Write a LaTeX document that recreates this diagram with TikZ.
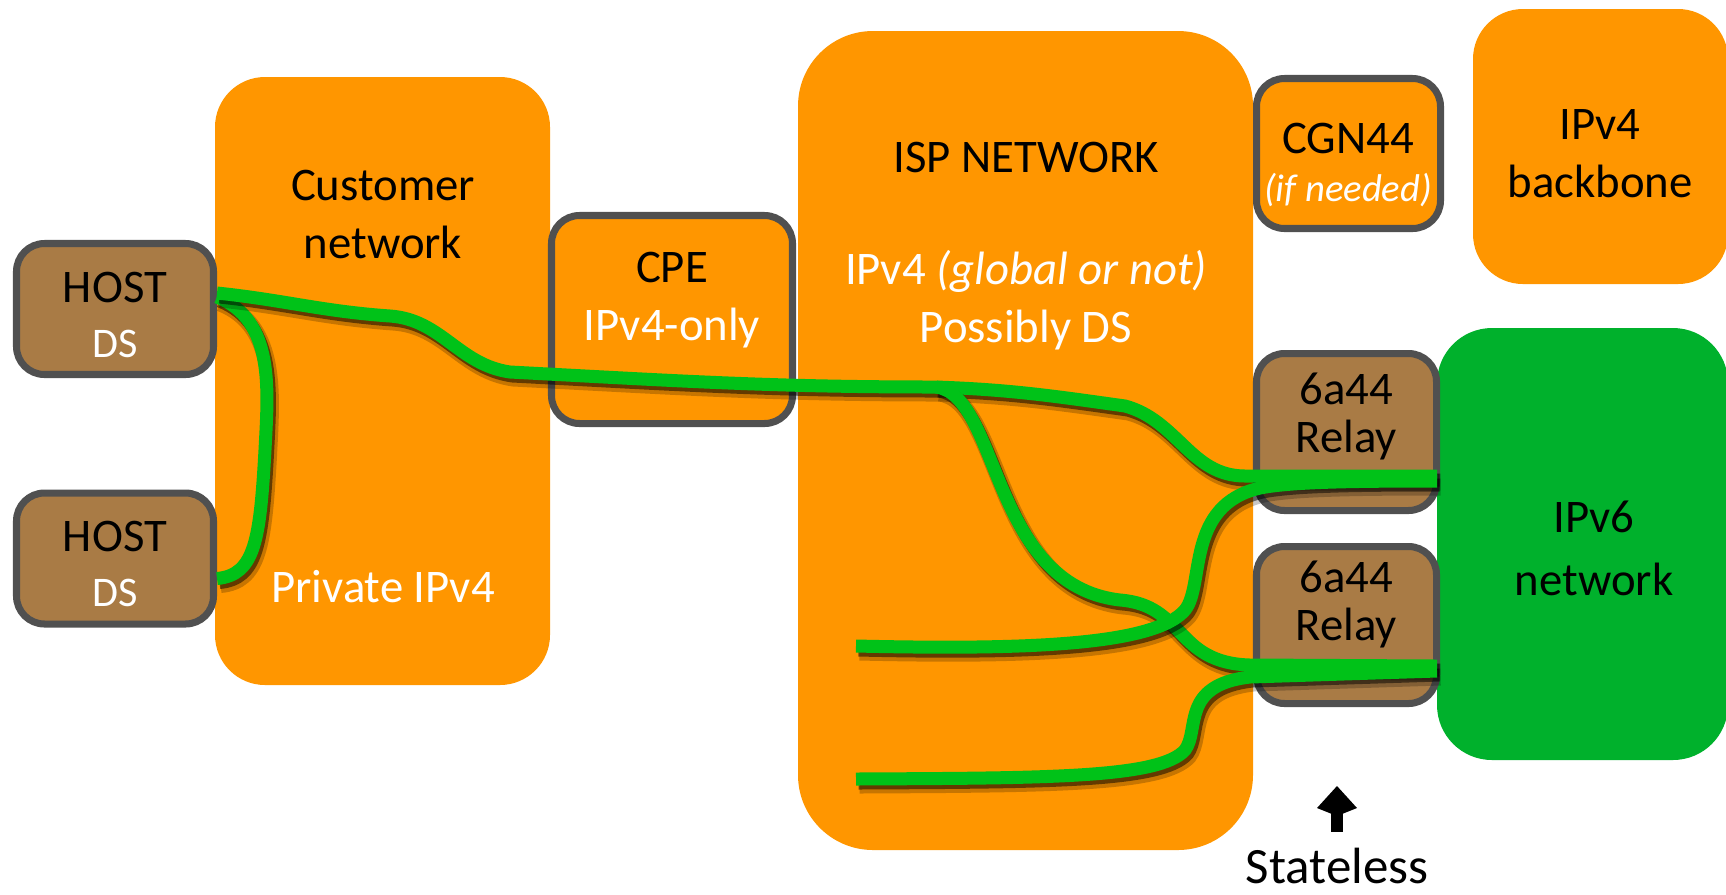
\documentclass[tikz,border=0pt]{standalone}
\usepackage{fontspec}
\setmainfont{Carlito}
\usetikzlibrary{arrows.meta,positioning,calc}
\definecolor{netorange}{HTML}{FF9600}
\definecolor{devbrown}{HTML}{A97B45}
\definecolor{frame}{HTML}{505050}
\definecolor{wire}{HTML}{00C218}
\definecolor{sixnet}{HTML}{00B12C}
\newcommand{\EdgeX}{14.37}
\newcommand{\RelayX}{13.465}

\begin{document}
\begin{tikzpicture}[
    font=\fontsize{13.3}{16.5}\selectfont,
    cloud/.style={fill=netorange, rounded corners=#1, inner sep=0pt},
    cloud/.default=0.5cm,
    device/.style={draw=frame, line width=2pt, rounded corners=0.28cm, inner sep=0pt, align=center},
    lbl/.style={align=center, inner sep=0pt},
    tunnel/.style={draw=wire, line width=0.13cm,
      preaction={draw=black, opacity=0.22, line width=0.17cm, transform canvas={shift={(0.035,-0.06)}}},
      preaction={draw=black, opacity=0.5, line width=0.13cm, transform canvas={shift={(0.025,-0.04)}}}},
    pointer/.style={-{Kite[length=0.30cm, width=0.40cm, inset=0.08cm]}, line width=0.12cm, draw=black},
  ]
\useasboundingbox (0,0) rectangle (17.26,-8.94);

% Networks
\node[cloud=0.75cm, minimum width=4.55cm, minimum height=8.19cm] (isp) at (10.255,-4.405) {};
\node[cloud, minimum width=3.35cm, minimum height=6.08cm] (cust) at (3.825,-3.81) {};
\node[cloud, minimum width=2.55cm, minimum height=2.75cm] (backbone) at (16.005,-1.465) {};
\node[cloud=0.55cm, fill=sixnet, minimum width=2.91cm, minimum height=4.32cm] (ipv6) at (15.825,-5.44) {};

% Devices
\node[device, fill=devbrown, minimum width=1.97cm, minimum height=1.31cm] (host1) at (1.15,-3.09) {};
\node[device, fill=devbrown, minimum width=1.97cm, minimum height=1.31cm] (host2) at (1.15,-5.585) {};
\node[device, fill=netorange, minimum width=2.41cm, minimum height=2.08cm] (cpe) at (6.72,-3.195) {};
\node[device, fill=netorange, minimum width=1.84cm, minimum height=1.50cm] (cgn) at (13.485,-1.535) {};
\node[device, fill=devbrown, minimum width=1.80cm, minimum height=1.57cm] (relay1) at (\RelayX,-4.32) {};
\node[device, fill=devbrown, minimum width=1.80cm, minimum height=1.57cm] (relay2) at (\RelayX,-6.25) {};

% Texts
\node[lbl] (custlbl) at (3.83,-2.14) {Customer\\network};
\node[lbl, text=white] (privlbl) at (3.83,-5.87) {Private IPv4};
\node[lbl] (host1lbl) at (1.15,-3.15) {HOST\\[-1pt]\textcolor{white}{\fontsize{12}{14}\selectfont DS}};
\node[lbl] (host2lbl) at (1.15,-5.64) {HOST\\[-1pt]\textcolor{white}{\fontsize{12}{14}\selectfont DS}};
\node[lbl] (cpelbl) at (6.72,-3.0) {CPE\\\textcolor{white}{IPv4-only}};
\node[lbl] (isplbl) at (10.26,-1.57) {ISP NETWORK};
\node[lbl, text=white] (ispsub) at (10.26,-3.0) {IPv4 \textit{(global or not)}\\Possibly DS};
\node[lbl] (cgnlbl) at (13.48,-1.65) {CGN44\\[-3pt]\textcolor{white}{\fontsize{11}{13}\selectfont\itshape (if needed)}};
\node[lbl] (backbonelbl) at (16.0,-1.535) {IPv4\\backbone};
\node[lbl] (relay1lbl) at (\RelayX,-4.165) {6a44\\[-3pt]Relay};
\node[lbl] (relay2lbl) at (\RelayX,-6.045) {6a44\\[-3pt]Relay};
\node[lbl] (ipv6lbl) at (15.94,-5.485) {IPv6\\[1.5pt]network};
\node[lbl, anchor=base, font=\fontsize{14.5}{17}\selectfont] (stateless) at (13.37,-8.83) {Stateless};
\coordinate (statetip) at (13.37,-7.86);
\draw[pointer] ([yshift=0.15cm]stateless.north) -- (statetip);

% Tunnels: free ends at the IPv6 edge and inside the ISP network
\coordinate (branch) at (9.36,-3.87);
\coordinate (r1a) at (\EdgeX,-4.76);
\coordinate (r1b) at (\EdgeX,-4.81);
\coordinate (r2a) at (\EdgeX,-6.66);
\coordinate (r2b) at (\EdgeX,-6.71);
\coordinate (c0) at (8.56,-6.46);
\coordinate (d0) at (8.56,-7.79);

\draw[tunnel] ([yshift=0.12cm]host1.east) .. controls (2.75,-3.2) and (2.68,-3.9) .. (2.65,-4.5)
  .. controls (2.6,-5.4) and (2.55,-5.75) .. ([yshift=-0.2cm]host2.east);
\draw[tunnel] ([yshift=0.16cm]host1.east) to[out=-6,in=176] (3.9,-3.16) to[out=-4,in=172] (5.1,-3.72)
  to[out=-3,in=180] (branch) to[out=-2,in=172] (11.25,-4.06) to[out=-15,in=180] (12.45,-4.76) -- (r1a);
\draw[tunnel] (branch) .. controls (10.0,-3.95) and (9.9,-5.85) .. (11.2,-6.0)
  .. controls (11.85,-6.05) and (11.75,-6.63) .. (12.5,-6.65) -- (r2a);
\draw[tunnel] (c0) .. controls (10.3,-6.5) and (11.55,-6.45) .. (11.85,-6.1)
  .. controls (12.05,-5.85) and (11.85,-5.05) .. (12.6,-4.88)
  .. controls (12.9,-4.82) and (13.5,-4.81) .. (r1b);
\draw[tunnel] (d0) .. controls (10.5,-7.78) and (11.6,-7.78) .. (11.85,-7.5)
  .. controls (12.0,-7.3) and (11.8,-6.85) .. (12.5,-6.77) -- (r2b);

\end{tikzpicture}
\end{document}
